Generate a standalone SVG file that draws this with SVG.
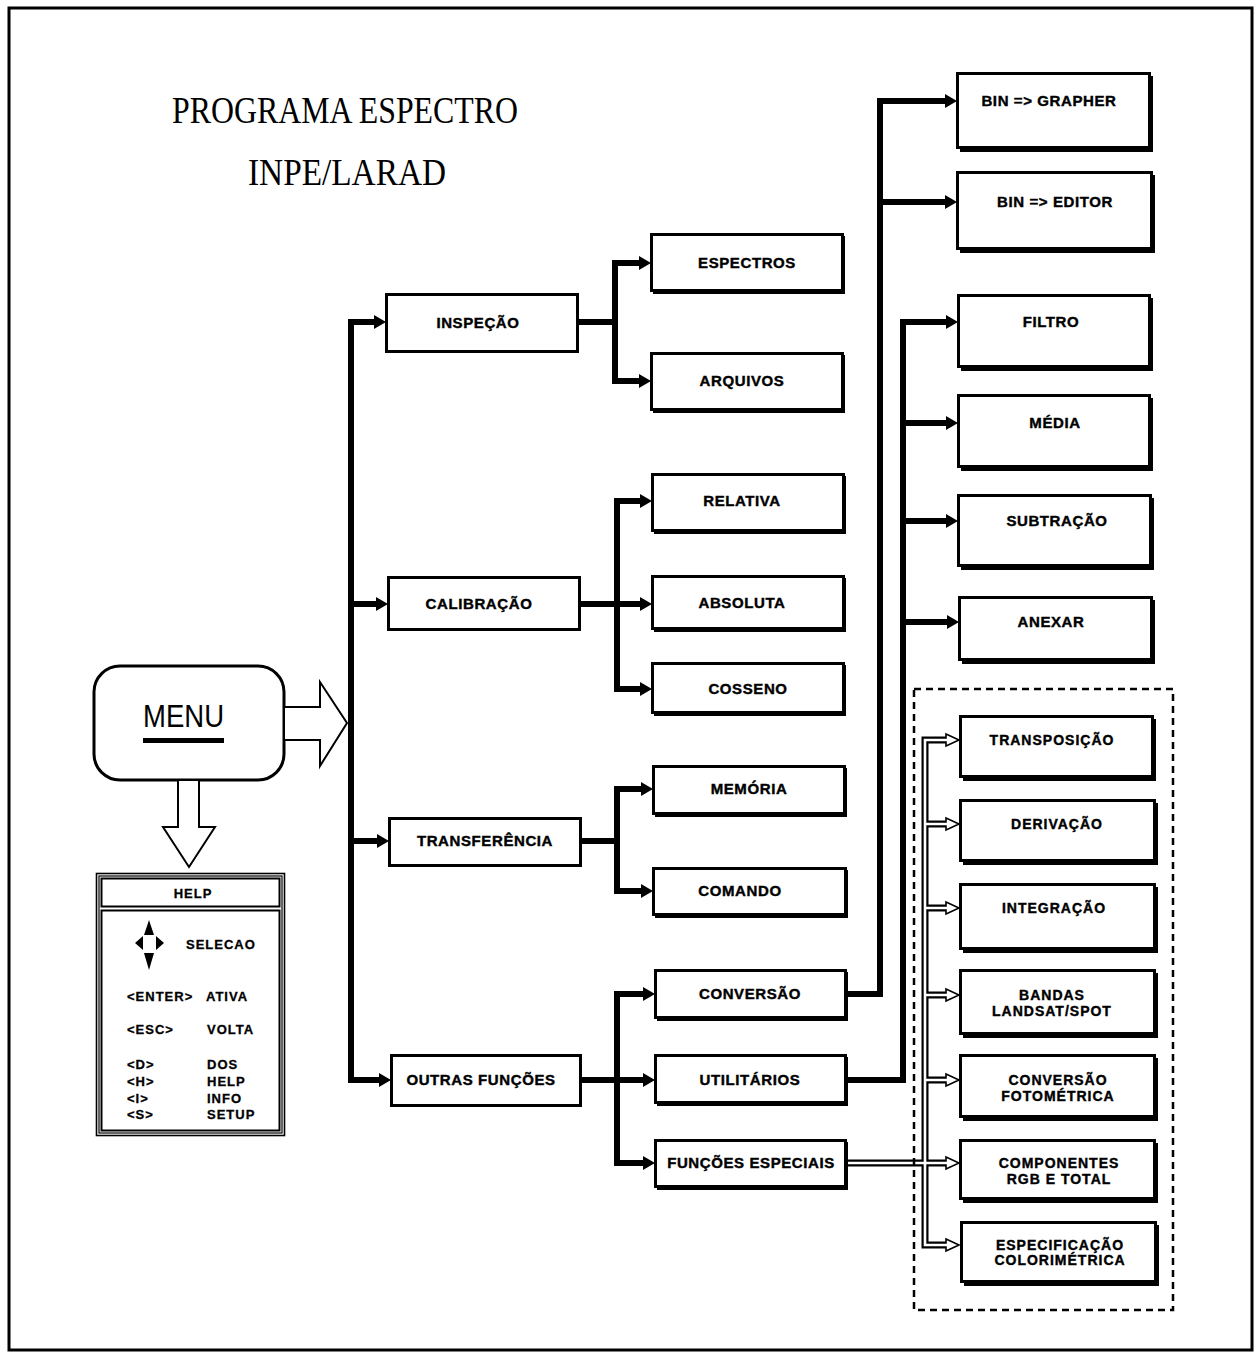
<svg xmlns="http://www.w3.org/2000/svg" width="1260" height="1355" viewBox="0 0 1260 1355">
<style>
.bx{fill:#fff;stroke:#000;stroke-width:3}
.sh{fill:#000}
.lb{font-family:"Liberation Sans",Arial,sans-serif;font-weight:bold;font-size:15px;letter-spacing:0.6px;text-anchor:middle;fill:#000;stroke:#000;stroke-width:0.4}
.lb2{font-family:"Liberation Sans",Arial,sans-serif;font-weight:bold;font-size:14px;letter-spacing:1px;text-anchor:middle;fill:#000;stroke:#000;stroke-width:0.4}
.hl{font-family:"Liberation Sans",Arial,sans-serif;font-weight:bold;font-size:13px;letter-spacing:1px;fill:#000;stroke:#000;stroke-width:0.3}
.ttl{font-family:"Liberation Serif","Times New Roman",serif;font-size:37px;fill:#000}
.cn{fill:none;stroke:#000;stroke-width:6;marker-end:url(#ah)}
.cnp{fill:none;stroke:#000;stroke-width:6}
.dblo{fill:none;stroke:#000;stroke-width:7}
.dbli{fill:none;stroke:#fff;stroke-width:2.6}
.hh{fill:#fff;stroke:#000;stroke-width:1.6}
</style>
<defs>
<marker id="ah" viewBox="0 0 12 14" refX="2" refY="7" markerWidth="12" markerHeight="14" markerUnits="userSpaceOnUse" orient="auto">
<path d="M0,0 L12,7 L0,14 z" fill="#000"/>
</marker>
</defs>

<rect x="9" y="8" width="1243" height="1342" fill="#fff" stroke="#000" stroke-width="3"/>

<g id="title">
<text class="ttl" x="172" y="123" textLength="346" lengthAdjust="spacingAndGlyphs">PROGRAMA ESPECTRO</text>
<text class="ttl" x="248" y="185" textLength="198" lengthAdjust="spacingAndGlyphs">INPE/LARAD</text>
</g>

<g id="menu">
<rect x="94" y="666" width="190" height="114" rx="26" ry="26" fill="#fff" stroke="#000" stroke-width="3"/>
<text x="143" y="727" font-family="Liberation Sans,Arial,sans-serif" font-size="32" textLength="81" lengthAdjust="spacingAndGlyphs">MENU</text>
<rect x="143" y="738" width="81" height="5" fill="#000"/>
</g>

<g id="menu-arrows" fill="#fff" stroke="#000" stroke-width="2">
<path d="M285,707 H320 V682 L347,723 L320,766 V740 H285"/>
<path d="M178,781 V827 H163 L189,867 L215,827 H199 V781"/>
</g>

<g id="help">
<rect x="96.5" y="873.5" width="188" height="262" fill="#fff" stroke="#000" stroke-width="1.6"/>
<rect x="99" y="876" width="183" height="257" fill="none" stroke="#000" stroke-width="1.2"/>
<rect x="101.5" y="878.5" width="178" height="28" fill="none" stroke="#000" stroke-width="2"/>
<rect x="101.5" y="910.5" width="178" height="220" fill="none" stroke="#000" stroke-width="2"/>
<text class="hl" x="193" y="898" text-anchor="middle">HELP</text>
<path d="M149,920 L154,935 H144 Z M149,970 L154,953 H144 Z M135,943 L143,936 V950 Z M164,943 L156,936 V950 Z" fill="#000"/>
<text class="hl" x="186" y="949">SELECAO</text>
<text class="hl" x="127" y="1001">&lt;ENTER&gt;</text>
<text class="hl" x="206" y="1001">ATIVA</text>
<text class="hl" x="127" y="1034">&lt;ESC&gt;</text>
<text class="hl" x="207" y="1034">VOLTA</text>
<text class="hl" x="127" y="1069">&lt;D&gt;</text>
<text class="hl" x="207" y="1069">DOS</text>
<text class="hl" x="127" y="1086">&lt;H&gt;</text>
<text class="hl" x="207" y="1086">HELP</text>
<text class="hl" x="127" y="1103">&lt;I&gt;</text>
<text class="hl" x="207" y="1103">INFO</text>
<text class="hl" x="127" y="1119">&lt;S&gt;</text>
<text class="hl" x="207" y="1119">SETUP</text>
</g>

<g id="connectors">
<path class="cnp" d="M376,322 H351 V1080 H381"/>
<path class="cn" d="M351,322 H376"/>
<path class="cn" d="M351,1080 H381"/>
<path class="cn" d="M351,604 H378"/>
<path class="cn" d="M351,841 H379"/>

<path class="cnp" d="M578,322 H615"/>
<path class="cnp" d="M641,263 H615 V381 H641"/>
<path class="cn" d="M615,263 H641"/>
<path class="cn" d="M615,381 H641"/>

<path class="cn" d="M579,604 H642"/>
<path class="cnp" d="M642,501 H617 V689 H642"/>
<path class="cn" d="M617,501 H642"/>
<path class="cn" d="M617,689 H642"/>

<path class="cnp" d="M580,841 H617"/>
<path class="cnp" d="M643,789 H617 V891 H643"/>
<path class="cn" d="M617,789 H643"/>
<path class="cn" d="M617,891 H643"/>

<path class="cn" d="M580,1080 H645"/>
<path class="cnp" d="M645,994 H617 V1163 H645"/>
<path class="cn" d="M617,994 H645"/>
<path class="cn" d="M617,1163 H645"/>

<path class="cnp" d="M847,994 H880 V101 H947"/>
<path class="cn" d="M880,101 H947"/>
<path class="cn" d="M880,202 H947"/>

<path class="cnp" d="M847,1080 H903 V322 H948"/>
<path class="cn" d="M903,322 H948"/>
<path class="cn" d="M903,423 H948"/>
<path class="cn" d="M903,521 H948"/>
<path class="cn" d="M903,622 H949"/>

<path class="dblo" d="M946,740 H925 V1245 H946 M925,824 H946 M925,908 H946 M925,995 H946 M925,1080 H946 M847,1163 H946"/>
<path class="hh" d="M946,734 L959,740 L946,746 Z"/>
<path class="hh" d="M946,818 L959,824 L946,830 Z"/>
<path class="hh" d="M946,902 L959,908 L946,914 Z"/>
<path class="hh" d="M946,989 L959,995 L946,1001 Z"/>
<path class="hh" d="M946,1074 L959,1080 L946,1086 Z"/>
<path class="hh" d="M946,1157 L959,1163 L946,1169 Z"/>
<path class="hh" d="M946,1239 L959,1245 L946,1251 Z"/>
<path class="dbli" d="M949,740 H925 V1245 H949 M925,824 H949 M925,908 H949 M925,995 H949 M925,1080 H949 M847,1163 H949"/>
</g>

<rect id="especiais-frame" x="914" y="689" width="259" height="621" fill="none" stroke="#000" stroke-width="2.5" stroke-dasharray="7,5"/>

<g id="inspecao"><rect class="bx" x="386.5" y="294.5" width="191" height="57"/><text class="lb" x="478" y="328">INSPEÇÃO</text></g>
<g id="calibracao"><rect class="bx" x="388.5" y="577.5" width="191" height="52"/><text class="lb" x="479" y="609">CALIBRAÇÃO</text></g>
<g id="transferencia"><rect class="bx" x="389.5" y="818.5" width="191" height="47"/><text class="lb" x="485" y="846">TRANSFERÊNCIA</text></g>
<g id="outras"><rect class="bx" x="391.5" y="1055.5" width="189" height="50"/><text class="lb" x="481" y="1085">OUTRAS FUNÇÕES</text></g>

<g id="espectros"><rect class="sh" x="653" y="236" width="192" height="58"/><rect class="bx" x="651.5" y="234.5" width="191" height="56"/><text class="lb" x="747" y="268">ESPECTROS</text></g>
<g id="arquivos"><rect class="sh" x="653" y="355" width="192" height="58"/><rect class="bx" x="651.5" y="353.5" width="191" height="56"/><text class="lb" x="742" y="386">ARQUIVOS</text></g>
<g id="relativa"><rect class="sh" x="654" y="476" width="192" height="58"/><rect class="bx" x="652.5" y="474.5" width="191" height="56"/><text class="lb" x="742" y="506">RELATIVA</text></g>
<g id="absoluta"><rect class="sh" x="654" y="578" width="192" height="54"/><rect class="bx" x="652.5" y="576.5" width="191" height="52"/><text class="lb" x="742" y="608">ABSOLUTA</text></g>
<g id="cosseno"><rect class="sh" x="654" y="665" width="192" height="51"/><rect class="bx" x="652.5" y="663.5" width="191" height="49"/><text class="lb" x="748" y="694">COSSENO</text></g>
<g id="memoria"><rect class="sh" x="655" y="768" width="192" height="49"/><rect class="bx" x="653.5" y="766.5" width="191" height="47"/><text class="lb" x="749" y="794">MEMÓRIA</text></g>
<g id="comando"><rect class="sh" x="655" y="870" width="193" height="48"/><rect class="bx" x="653.5" y="868.5" width="192" height="46"/><text class="lb" x="740" y="896">COMANDO</text></g>
<g id="conversao"><rect class="sh" x="657" y="972" width="191" height="49"/><rect class="bx" x="655.5" y="970.5" width="190" height="47"/><text class="lb" x="750" y="999">CONVERSÃO</text></g>
<g id="utilitarios"><rect class="sh" x="657" y="1057" width="191" height="49"/><rect class="bx" x="655.5" y="1055.5" width="190" height="47"/><text class="lb" x="750" y="1085">UTILITÁRIOS</text></g>
<g id="funcoes-especiais"><rect class="sh" x="657" y="1142" width="191" height="48"/><rect class="bx" x="655.5" y="1140.5" width="190" height="46"/><text class="lb" x="751" y="1168">FUNÇÕES ESPECIAIS</text></g>

<g id="bin-grapher"><rect class="sh" x="960" y="76" width="193" height="76"/><rect class="bx" x="957.5" y="73.5" width="192" height="74"/><text class="lb" x="1049" y="106">BIN =&gt; GRAPHER</text></g>
<g id="bin-editor"><rect class="sh" x="960" y="175" width="195" height="78"/><rect class="bx" x="957.5" y="172.5" width="194" height="76"/><text class="lb" x="1055" y="207">BIN =&gt; EDITOR</text></g>
<g id="filtro"><rect class="sh" x="961" y="298" width="192" height="73"/><rect class="bx" x="958.5" y="295.5" width="191" height="71"/><text class="lb" x="1051" y="327">FILTRO</text></g>
<g id="media"><rect class="sh" x="961" y="398" width="192" height="73"/><rect class="bx" x="958.5" y="395.5" width="191" height="71"/><text class="lb" x="1055" y="428">MÉDIA</text></g>
<g id="subtracao"><rect class="sh" x="961" y="498" width="193" height="72"/><rect class="bx" x="958.5" y="495.5" width="192" height="70"/><text class="lb" x="1057" y="526">SUBTRAÇÃO</text></g>
<g id="anexar"><rect class="sh" x="962" y="600" width="193" height="64"/><rect class="bx" x="959.5" y="597.5" width="192" height="62"/><text class="lb" x="1051" y="627">ANEXAR</text></g>

<g id="transposicao"><rect class="sh" x="963" y="719" width="193" height="62"/><rect class="bx" x="960.5" y="716.5" width="192" height="60"/><text class="lb2" x="1052" y="745">TRANSPOSIÇÃO</text></g>
<g id="derivacao"><rect class="sh" x="963" y="803" width="195" height="62"/><rect class="bx" x="960.5" y="800.5" width="194" height="60"/><text class="lb2" x="1057" y="829">DERIVAÇÃO</text></g>
<g id="integracao"><rect class="sh" x="963" y="887" width="195" height="66"/><rect class="bx" x="960.5" y="884.5" width="194" height="64"/><text class="lb2" x="1054" y="913">INTEGRAÇÃO</text></g>
<g id="bandas"><rect class="sh" x="963" y="973" width="195" height="65"/><rect class="bx" x="960.5" y="970.5" width="194" height="63"/><text class="lb2" x="1052" y="1000">BANDAS</text><text class="lb2" x="1052" y="1016">LANDSAT/SPOT</text></g>
<g id="conversao-fotometrica"><rect class="sh" x="963" y="1058" width="195" height="63"/><rect class="bx" x="960.5" y="1055.5" width="194" height="61"/><text class="lb2" x="1058" y="1085">CONVERSÃO</text><text class="lb2" x="1058" y="1101">FOTOMÉTRICA</text></g>
<g id="componentes"><rect class="sh" x="963" y="1143" width="195" height="60"/><rect class="bx" x="960.5" y="1140.5" width="194" height="58"/><text class="lb2" x="1059" y="1168">COMPONENTES</text><text class="lb2" x="1059" y="1184">RGB E TOTAL</text></g>
<g id="especificacao"><rect class="sh" x="964" y="1225" width="195" height="61"/><rect class="bx" x="961.5" y="1222.5" width="194" height="59"/><text class="lb2" x="1060" y="1250">ESPECIFICAÇÃO</text><text class="lb2" x="1060" y="1265">COLORIMÉTRICA</text></g>
</svg>
